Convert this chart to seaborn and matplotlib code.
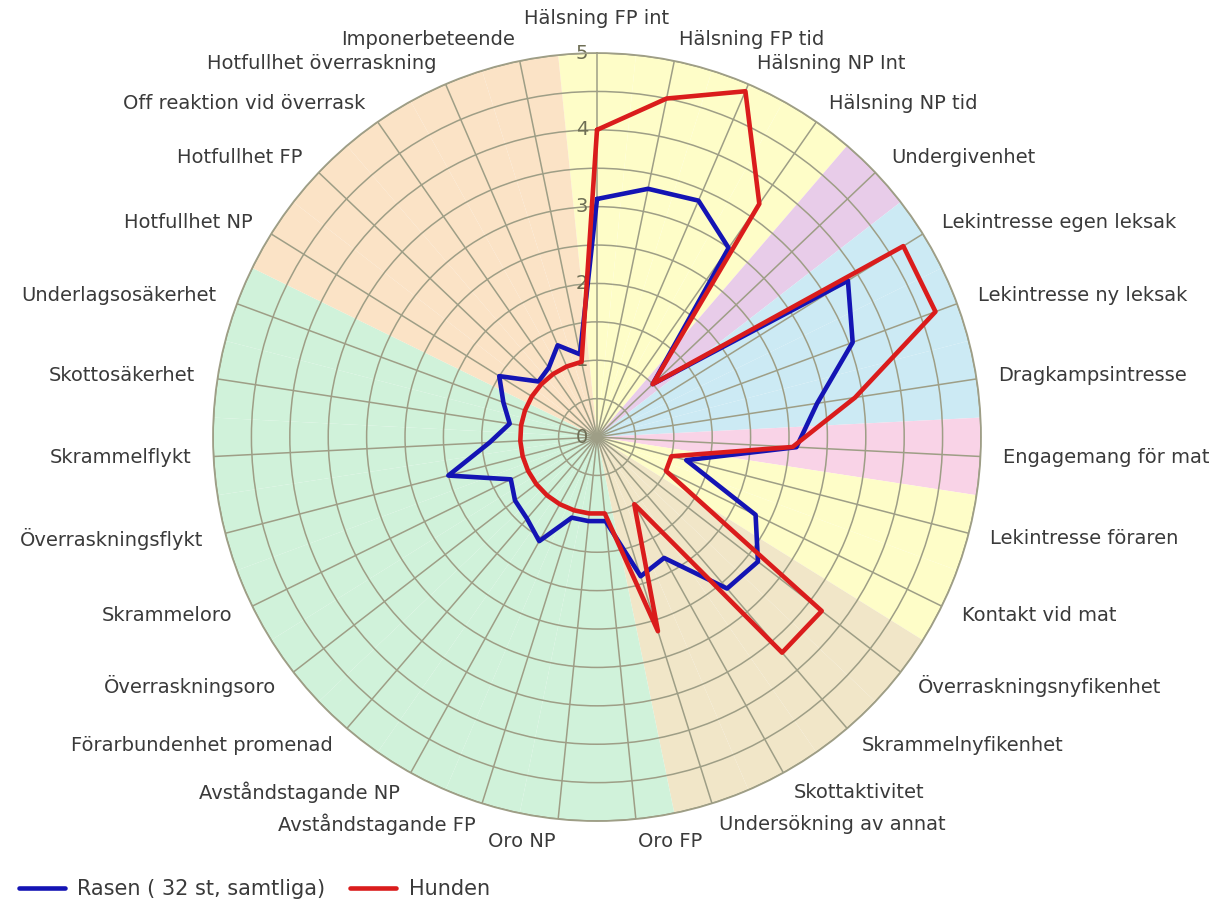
import numpy as np
import pandas as pd
import matplotlib
matplotlib.use("Agg")
import matplotlib.pyplot as plt
import matplotlib.transforms as mtransforms
import seaborn as sns

# ── Data ───────────────────────────────────────────────────────────────────────
CATEGORIES = [
    "Hälsning FP int", "Hälsning FP tid", "Hälsning NP Int", "Hälsning NP tid",
    "Undergivenhet", "Lekintresse egen leksak", "Lekintresse ny leksak",
    "Dragkampsintresse", "Engagemang för mat", "Lekintresse föraren",
    "Kontakt vid mat", "Överraskningsnyfikenhet", "Skrammelnyfikenhet",
    "Skottaktivitet", "Undersökning av annat", "Oro FP", "Oro NP",
    "Avståndstagande FP", "Avståndstagande NP", "Förarbundenhet promenad",
    "Överraskningsoro", "Skrammeloro", "Överraskningsflykt", "Skrammelflykt",
    "Skottosäkerhet", "Underlagsosäkerhet", "Hotfullhet NP", "Hotfullhet FP",
    "Off reaktion vid överrask", "Hotfullhet överraskning", "Imponerbeteende",
]
RASEN = [3.1, 3.3, 3.35, 3.0, 1.0, 3.85, 3.55, 2.9, 2.6, 1.2, 2.3, 2.65, 2.6,
         1.8, 1.9, 1.1, 1.1, 1.1, 1.55, 1.4, 1.35, 1.25, 2.0, 1.4, 1.15, 1.3,
         1.5, 1.05, 1.1, 1.3, 1.1]
HUNDEN = [4.0, 4.5, 4.9, 3.7, 1.0, 4.7, 4.7, 3.4, 2.55, 1.0, 1.0, 3.7, 3.7,
          1.0, 2.65, 1.0, 1.0, 1.0, 1.0, 1.0, 1.0, 1.0, 1.0, 1.0, 1.0, 1.0,
          1.0, 1.0, 1.0, 1.0, 1.0]
# background group of each category
GROUPS = (["halsning"] * 4 + ["undergiven"] + ["lek"] * 3 + ["mat"] +
          ["forare"] * 2 + ["nyfiken"] * 4 + ["radsla"] * 11 + ["hot"] * 5)
SERIES = ["Rasen ( 32 st, samtliga)", "Hunden"]
R_TICKS = [0, 1, 2, 3, 4, 5]

GROUP_COLORS = {
    "halsning": "#FEFDC8", "undergiven": "#E8CCE9", "lek": "#CCEAF4",
    "mat": "#F9D3E7", "forare": "#FEFDC8", "nyfiken": "#F1E6C8",
    "radsla": "#D0F2DA", "hot": "#FBE3C6",
}
LINE_COLORS = {SERIES[0]: "#1414B4", SERIES[1]: "#DA1C1C"}
GRID_COLOR = "#9E9E86"
TEXT_COLOR = "#3A3A3A"

# ── Style ──────────────────────────────────────────────────────────────────────
sns.set_theme(style="white")
plt.rcParams["font.family"] = ["DejaVu Sans"]

n = len(CATEGORIES)
step = 2 * np.pi / n
theta = np.arange(n) * step

fig = plt.figure(figsize=(12.24, 9.15), dpi=100)
ax = fig.add_axes([0.1740, 0.1027, 0.6275, 0.8393], projection="polar")
ax.set_theta_zero_location("N")
ax.set_theta_direction(-1)
ax.set_ylim(0, 5)

# coloured sectors
ax.bar(theta, [5] * n, width=step, bottom=0,
       color=[GROUP_COLORS[g] for g in GROUPS], linewidth=0, zorder=0.5)

# grid
ax.set_xticks(theta)
ax.set_xticklabels([])
ax.set_yticks(np.arange(0.5, 5.01, 0.5))
ax.set_yticklabels([])
ax.grid(True, color=GRID_COLOR, linewidth=1.1)
ax.spines["polar"].set_color(GRID_COLOR)
ax.spines["polar"].set_linewidth(1.3)

# radial value labels, left of the top spoke
lbl_tr = mtransforms.offset_copy(ax.transData, fig=fig, x=-15, y=0, units="dots")
for r in R_TICKS:
    ax.text(0, r, str(r), transform=lbl_tr, ha="center", va="center",
            fontsize=14, color="#6E6E55", zorder=1.8)

# series
rows = []
for name, vals in zip(SERIES, [RASEN, HUNDEN]):
    for t, v in zip(list(theta) + [theta[0]], list(vals) + [vals[0]]):
        rows.append({"serie": name, "theta": t, "value": v})
df = pd.DataFrame(rows)
sns.lineplot(data=df, x="theta", y="value", hue="serie", palette=LINE_COLORS,
             sort=False, estimator=None, linewidth=3.3, ax=ax, legend=False,
             zorder=3)
ax.set_xlabel("")
ax.set_ylabel("")

# category labels
for i, (t, lab) in enumerate(zip(theta, CATEGORIES)):
    deg = np.degrees(t)
    if i == 0:
        ha, va, rr = "center", "bottom", 5.32
    elif deg < 180:
        ha, va, rr = "left", "center", 5.29
    else:
        ha, va, rr = "right", "center", 5.29
    ax.text(t, rr, lab, ha=ha, va=va, fontsize=14, color=TEXT_COLOR,
            clip_on=False)

# legend
handles = [plt.Line2D([], [], color=LINE_COLORS[s], linewidth=3.3) for s in SERIES]
fig.legend(handles, SERIES, loc="lower left", bbox_to_anchor=(0.0, -0.003),
           ncol=2, frameon=False, fontsize=15, handlelength=2.2,
           handletextpad=0.6, columnspacing=1.2, labelcolor=TEXT_COLOR)

fig.savefig("out.png", dpi=100, facecolor="white")
